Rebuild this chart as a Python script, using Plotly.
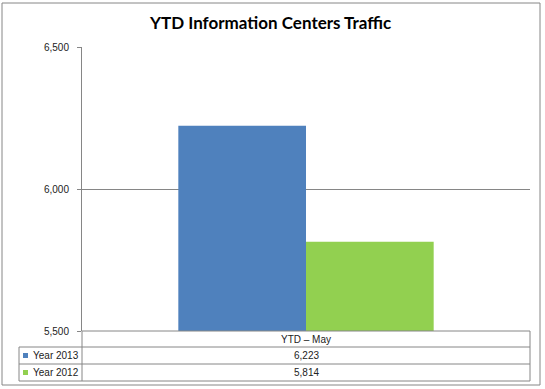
import plotly.graph_objects as go

categories = ["YTD – May"]
series_names = ["Year 2013", "Year 2012"]
values_2013 = [6223]
values_2012 = [5814]
colors = ["#4F81BD", "#92D050"]
title = "YTD Information Centers Traffic"

W, H = 545, 389
def px(x): return x / W
def py(y): return 1 - y / H

L, R, T, B = 82, 530, 47, 331
rows = [331, 347, 364, 381]
grid = "#868686"

fig = go.Figure()
for name, vals, c in zip(series_names, [values_2013, values_2012], colors):
    fig.add_trace(go.Bar(x=categories, y=vals, name=name, marker=dict(color=c, line=dict(width=0)),
                         showlegend=False))

fig.update_layout(
    width=W, height=H, margin=dict(l=0, r=0, t=0, b=0, pad=0), autosize=False,
    paper_bgcolor="white", plot_bgcolor="white",
    barmode="group", bargap=0.43, bargroupgap=0,
    font=dict(family="Liberation Sans", size=10, color="#222"),
    xaxis=dict(domain=[px(L), px(R)], showticklabels=False, showgrid=False, zeroline=False, showline=False,
               automargin=False),
    yaxis=dict(domain=[py(B), py(T)], range=[5500, 6500], dtick=500, tickformat=",",
               showgrid=True, gridcolor=grid, gridwidth=1, zeroline=False,
               showline=True, linecolor=grid, linewidth=1, automargin=False,
               ticks="outside", ticklen=4, tickcolor=grid, ticklabelstandoff=6,
               tickfont=dict(family="Liberation Sans", size=10, color="#222")),
    annotations=[dict(text="<b>" + title + "</b>", x=px(270), y=py(22), xref="paper", yref="paper",
                      xanchor="center", yanchor="middle",
                      showarrow=False, font=dict(family="Lato", size=17, color="black"))],
)

shapes = []
shapes.append(dict(type="rect", xref="paper", yref="paper", x0=px(2), x1=px(540), y0=py(3), y1=py(385),
                   line=dict(color=grid, width=1)))
shapes.append(dict(type="line", xref="paper", yref="paper", x0=px(L), x1=px(R), y0=py(rows[0]), y1=py(rows[0]),
                   line=dict(color=grid, width=1)))
for y in rows[1:]:
    shapes.append(dict(type="line", xref="paper", yref="paper", x0=px(19), x1=px(R), y0=py(y), y1=py(y),
                       line=dict(color=grid, width=1)))
shapes.append(dict(type="line", xref="paper", yref="paper", x0=px(19), x1=px(19), y0=py(rows[1]), y1=py(rows[3]),
                   line=dict(color=grid, width=1)))
shapes.append(dict(type="line", xref="paper", yref="paper", x0=px(L), x1=px(L), y0=py(rows[0]), y1=py(rows[3]),
                   line=dict(color=grid, width=1)))
shapes.append(dict(type="line", xref="paper", yref="paper", x0=px(R), x1=px(R), y0=py(rows[0]), y1=py(rows[3]),
                   line=dict(color=grid, width=1)))

ann = list(fig.layout.annotations)
cx = (L + R) / 2
ann.append(dict(text=categories[0], x=px(cx), y=py((rows[0] + rows[1]) / 2), xref="paper", yref="paper",
                xanchor="center", yanchor="middle", showarrow=False, font=dict(size=10)))
for i, (name, vals, c) in enumerate(zip(series_names, [values_2013, values_2012], colors)):
    yc = (rows[i + 1] + rows[i + 2]) / 2
    shapes.append(dict(type="rect", xref="paper", yref="paper", x0=px(23), x1=px(28), y0=py(yc - 2.5), y1=py(yc + 2.5),
                       fillcolor=c, line=dict(width=0)))
    ann.append(dict(text=name, x=px(31), y=py(yc), xref="paper", yref="paper", xanchor="left", yanchor="middle",
                    showarrow=False, font=dict(size=10)))
    ann.append(dict(text=f"{vals[0]:,}", x=px(cx), y=py(yc), xref="paper", yref="paper",
                    xanchor="center", yanchor="middle", showarrow=False, font=dict(size=10)))

fig.update_layout(shapes=shapes, annotations=ann)
css = ("var s=document.createElement('style');"
       "s.innerHTML='html,body{margin:0;padding:0;overflow:hidden;width:545px;height:389px;}"
       ".plotly-graph-div{position:absolute;top:0;left:0;}';"
       "document.head.appendChild(s);")
fig.write_html("out.html", config={"displayModeBar": False}, post_script=css)
